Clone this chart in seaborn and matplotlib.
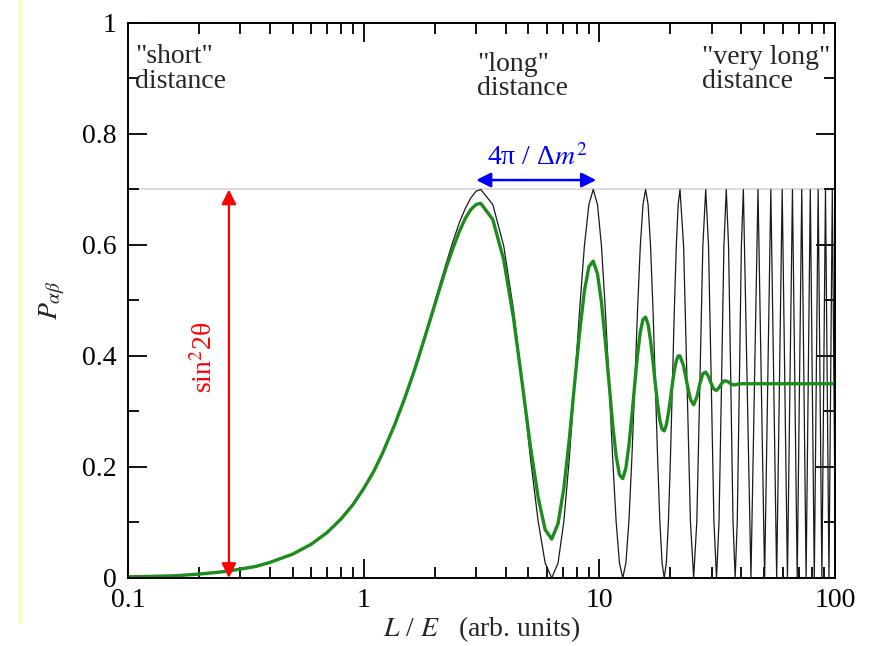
import matplotlib
matplotlib.use("Agg")
import matplotlib.pyplot as plt
import matplotlib.ticker as mticker
from matplotlib.lines import Line2D
import pandas as pd
import seaborn as sns

# L/E values (arb. units) where the probability rises to its first maximum
rise_le = [0.1, 0.13, 0.16, 0.2, 0.25, 0.3, 0.35, 0.4, 0.5, 0.6, 0.7, 0.8, 0.9, 1.0,
           1.1, 1.2, 1.35, 1.5, 1.65, 1.8, 1.95, 2.1, 2.25, 2.4, 2.55, 2.7, 2.85, 3.0]
rise_black = [0.002, 0.003, 0.004, 0.007, 0.011, 0.016, 0.021, 0.028, 0.043, 0.061,
              0.082, 0.106, 0.132, 0.161, 0.191, 0.223, 0.273, 0.325, 0.378, 0.430,
              0.480, 0.527, 0.570, 0.608, 0.641, 0.666, 0.685, 0.697]
rise_green = [0.002, 0.003, 0.004, 0.007, 0.011, 0.016, 0.021, 0.028, 0.043, 0.061,
              0.082, 0.106, 0.132, 0.161, 0.191, 0.224, 0.275, 0.326, 0.377, 0.428,
              0.476, 0.521, 0.562, 0.596, 0.625, 0.648, 0.664, 0.673]

near_le = [3.14, 3.53, 3.93, 4.32, 4.71, 5.10, 5.50, 5.89,
           6.28, 6.68, 7.07, 7.46, 7.85, 8.25, 8.64, 9.03,
           9.42, 9.82, 10.21, 10.60, 11.00, 11.39, 11.78, 12.17,
           12.57, 12.96, 13.35, 13.74, 14.14, 14.53, 14.92, 15.32,
           15.71, 16.10, 16.49, 16.89, 17.28, 17.67, 18.06, 18.46,
           18.85, 19.24, 19.64, 20.03, 20.42, 20.81, 21.21, 21.60,
           21.99]
near_black = [0.700, 0.673, 0.598, 0.484, 0.350, 0.216, 0.102, 0.027,
              0.000, 0.027, 0.102, 0.216, 0.350, 0.484, 0.598, 0.673,
              0.700, 0.673, 0.598, 0.484, 0.350, 0.216, 0.102, 0.027,
              0.000, 0.027, 0.102, 0.216, 0.350, 0.484, 0.598, 0.673,
              0.700, 0.673, 0.598, 0.484, 0.350, 0.216, 0.102, 0.027,
              0.000, 0.027, 0.102, 0.216, 0.350, 0.484, 0.598, 0.673,
              0.700]
near_green = [0.675, 0.646, 0.573, 0.469, 0.350, 0.237, 0.145, 0.087,
              0.070, 0.098, 0.162, 0.251, 0.350, 0.443, 0.517, 0.561,
              0.571, 0.548, 0.497, 0.427, 0.350, 0.277, 0.220, 0.186,
              0.179, 0.198, 0.239, 0.292, 0.350, 0.403, 0.443, 0.466,
              0.470, 0.457, 0.428, 0.390, 0.350, 0.313, 0.284, 0.268,
              0.265, 0.276, 0.297, 0.323, 0.350, 0.374, 0.391, 0.400,
              0.400]

mid_le = [22.78, 23.56, 24.35, 25.13, 25.92, 26.70, 27.49, 28.27,
          29.06, 29.85, 30.63, 31.42, 32.20, 32.99, 33.77, 34.56,
          35.34, 36.13, 36.91, 37.70, 38.48, 39.27, 40.06, 40.84]
mid_black = [0.598, 0.350, 0.102, 0.000, 0.102, 0.350, 0.598, 0.700,
             0.598, 0.350, 0.102, 0.000, 0.102, 0.350, 0.598, 0.700,
             0.598, 0.350, 0.102, 0.000, 0.102, 0.350, 0.598, 0.700]
mid_green = [0.382, 0.350, 0.322, 0.312, 0.326, 0.350, 0.368, 0.371,
             0.363, 0.350, 0.340, 0.338, 0.343, 0.350, 0.355, 0.355,
             0.353, 0.350, 0.348, 0.348, 0.349, 0.350, 0.350, 0.350]

# "very long" region: only the nodes and peaks can be told apart
far_le = [43.98, 47.12, 50.27, 53.41, 56.55, 59.69, 62.83, 65.97, 69.12, 72.26,
          75.40, 78.54, 81.68, 84.82, 87.96, 91.11, 94.25, 97.39, 100.53]
far_black = [0.0, 0.7, 0.0, 0.7, 0.0, 0.7, 0.0, 0.7, 0.0, 0.7,
             0.0, 0.7, 0.0, 0.7, 0.0, 0.7, 0.0, 0.7, 0.0]
far_green_le = [100.0]
far_green = [0.35]

# amplitude sin^2(2 theta)
amplitude = 0.7

black = pd.DataFrame({"le": rise_le + near_le + mid_le + far_le,
                      "p": rise_black + near_black + mid_black + far_black})
green = pd.DataFrame({"le": rise_le + near_le + mid_le + far_green_le,
                      "p": rise_green + near_green + mid_green + far_green})

sns.set_style("ticks")
plt.rcParams["font.family"] = ["Liberation Serif", "DejaVu Serif"]
plt.rcParams["mathtext.fontset"] = "stix"
plt.rcParams["font.size"] = 20

fig = plt.figure(figsize=(8.75, 6.46), dpi=100)
ax = fig.add_axes([0.1463, 0.1053, 0.808, 0.8591])

# light grey guide at the amplitude
ax.axhline(amplitude, color="#d6d6d6", lw=1.2, zorder=0)

sns.lineplot(data=black, x="le", y="p", color="#1a1a1a", lw=0.9,
             estimator=None, sort=False, ax=ax)
sns.lineplot(data=green, x="le", y="p", color="#1d8c1d", lw=2.4,
             estimator=None, sort=False, ax=ax)

ax.set_xscale("log")
ax.set_xlim(0.1, 100)
ax.set_ylim(0, 1)
ax.set_xticks([0.1, 1, 10, 100], labels=["0.1", "1", "10", "100"])
ax.xaxis.set_minor_locator(mticker.LogLocator(base=10, subs=range(2, 10)))
ax.xaxis.set_minor_formatter(mticker.NullFormatter())
ax.set_yticks([0, 0.2, 0.4, 0.6, 0.8, 1.0], labels=["0", "0.2", "0.4", "0.6", "0.8", "1"])
ax.yaxis.set_minor_locator(mticker.MultipleLocator(0.1))
ax.set_xlabel("")
ax.set_ylabel("")

ax.tick_params(which="both", direction="in", top=True, right=True, width=1.3,
               labelsize=20, colors="black")
ax.tick_params(which="major", length=14)
ax.tick_params(which="minor", length=8)
ax.tick_params(axis="x", pad=7)
ax.tick_params(axis="y", pad=8)
for sp in ax.spines.values():
    sp.set_linewidth(1.4)
    sp.set_color("black")

# region labels
ax.text(0.107, 0.962, '"short"\ndistance', ha="left", va="top", linespacing=1.0)
ax.text(3.03, 0.947, '"long"\ndistance', ha="left", va="top", linespacing=0.95)
ax.text(27.2, 0.961, '"very long"\ndistance', ha="left", va="top", linespacing=0.95)

# amplitude arrow
ax.annotate("", xy=(0.268, 0.0), xytext=(0.268, amplitude),
            arrowprops=dict(arrowstyle="<|-|>", color="red", lw=1.6,
                            mutation_scale=22, shrinkA=0, shrinkB=0))
ax.text(0.212, 0.398, "sin$^2$2θ", rotation=90, color="red", ha="center", va="center")

# period arrow
ax.annotate("", xy=(3.0, 0.717), xytext=(9.7, 0.717),
            arrowprops=dict(arrowstyle="<|-|>", color="blue", lw=1.8,
                            mutation_scale=22, shrinkA=0, shrinkB=0))
ax.text(5.44, 0.744, "4π / Δ$m^2$", color="blue", ha="center", va="baseline")

# axis titles
fig.text(52 / 875, 1 - 300 / 646, r"$P_{\alpha\beta}$", rotation=90, ha="center", va="center")
fig.text(482 / 875, 1 - 614 / 646, "$L$ / $E$   (arb. units)", ha="center", va="top")

# thin yellow page edge on the left
fig.add_artist(Line2D([20 / 875, 20 / 875], [1, 1 - 622 / 646], color="#fff8b0", lw=2))

fig.savefig("out.png", dpi=100)
